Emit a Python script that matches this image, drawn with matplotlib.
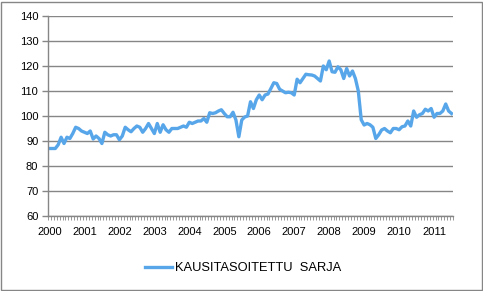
import numpy as np
import matplotlib
matplotlib.use("Agg")
import matplotlib.pyplot as plt
from matplotlib.patches import Rectangle

plt.rcParams['font.family'] = ['Liberation Sans', 'DejaVu Sans']

# kuukausittainen kausitasoitettu sarja, tammikuu 2000 - heinakuu 2011
v2000 = [87, 87, 87, 88.5, 91.5, 89, 91.5, 91, 93, 95.5, 95, 94]
v2001 = [93.5, 93, 94, 90.8, 92, 91, 89, 93.5, 92.5, 92, 92.5, 92.5]
v2002 = [90.5, 92, 95.5, 94.5, 93.7, 95, 96, 95.5, 93.5, 95, 97, 95]
v2003 = [93, 97, 93.5, 96.5, 94.5, 93.5, 95, 95, 95, 95.5, 96, 95.5]
v2004 = [97.5, 97, 97.5, 98, 98, 99, 97.5, 101.3, 101, 101.3, 102, 102.5]
v2005 = [101, 99.7, 99.7, 101.5, 98.4, 91.7, 98.4, 99.6, 100, 105.7, 103, 106.5]
v2006 = [108.4, 106.5, 108.4, 108.8, 111, 113.3, 113, 110.7, 110, 109.3, 109.5, 109.3]
v2007 = [108.4, 114.7, 113.3, 115, 116.7, 116.5, 116.4, 116, 115, 114, 120, 118.5]
v2008 = [122, 117.7, 117.5, 119.7, 118.5, 115, 119, 116, 118, 115, 110, 98.5]
v2009 = [96.4, 97, 96.5, 95.5, 91, 92.5, 94.4, 95, 94, 93.3, 95, 95]
v2010 = [94.5, 95.7, 96, 98, 96, 102, 99.5, 100.5, 101, 102.7, 102, 103]
v2011 = [99.5, 101, 101, 102, 104.8, 102, 101]

arvot = (v2000 + v2001 + v2002 + v2003 + v2004 + v2005 + v2006 + v2007
         + v2008 + v2009 + v2010 + v2011)
vuodet = [str(y) for y in range(2000, 2012)]

harmaa = '#868686'

fig = plt.figure(figsize=(4.83, 2.91), dpi=100)
ax = fig.add_axes([48 / 483, 75 / 291, 405 / 483, 200 / 291])

x = np.arange(len(arvot))
ax.plot(x, arvot, color='#58A6EA', lw=2.4, solid_joinstyle='round',
        label='KAUSITASOITETTU  SARJA')

ax.set_xlim(-0.5, len(arvot) - 0.5)
ax.set_ylim(60, 140)
ax.set_yticks(range(60, 141, 10))
ax.yaxis.grid(True, color=harmaa, lw=1)
ax.set_axisbelow(True)

ax.set_xticks(np.arange(0, len(arvot), 12))
ax.set_xticklabels(vuodet)
ax.set_xticks(np.arange(len(arvot) + 1) - 0.5, minor=True)
ax.tick_params(axis='x', which='major', length=0, pad=8, labelsize=8)
ax.tick_params(axis='x', which='minor', length=3, width=0.6, color=harmaa)
ax.tick_params(axis='y', length=4, width=1, color=harmaa, pad=3, labelsize=8)

for s in ['top', 'right']:
    ax.spines[s].set_visible(False)
for s in ['left', 'bottom']:
    ax.spines[s].set_color(harmaa)
    ax.spines[s].set_linewidth(1)

fig.legend(loc='center', bbox_to_anchor=(243 / 483, 23 / 291), frameon=False,
           fontsize=9.3, handlelength=2.1, handletextpad=0.25)

fig.patches.append(Rectangle((0.5 / 483, 1.5 / 291), 481 / 483, 288 / 291,
                             transform=fig.transFigure, fill=False,
                             edgecolor=harmaa, lw=1))

fig.savefig('out.png', dpi=100)
